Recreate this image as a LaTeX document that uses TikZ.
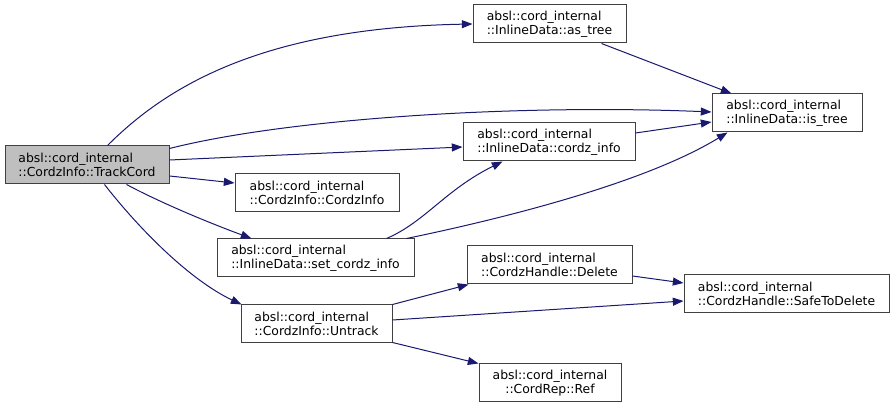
\documentclass[tikz,border=0pt]{standalone}
\usepackage{fontspec}
\setmainfont{DejaVu Sans}
\usetikzlibrary{arrows.meta,calc}
\definecolor{edgec}{HTML}{191970}
\definecolor{boxc}{HTML}{404040}
\definecolor{fillc}{HTML}{BFBFBF}
\begin{document}
\begin{tikzpicture}[x=0.75pt,y=-0.75pt,
  fn/.style={draw=boxc, line width=0.75pt, fill=white, inner xsep=2pt, inner ysep=0pt,
    minimum height=28.5pt, align=left, font=\fontsize{9.3}{10.7}\selectfont},
  ed/.style={draw=edgec, line width=0.75pt, -{Triangle[length=8pt,width=6pt]}}]
\useasboundingbox (0,0) rectangle (896,409);
\node[fn, fill=fillc, minimum width=123pt] (tc) at (87,165) {absl::cord\_internal\\::CordzInfo::TrackCord};
\node[fn, minimum width=114.75pt] (at) at (549.5,24) {absl::cord\_internal\\::InlineData::as\_tree};
\node[fn, minimum width=112.5pt] (it) at (787,113) {absl::cord\_internal\\::InlineData::is\_tree};
\node[fn, minimum width=129pt] (cz) at (549,142) {absl::cord\_internal\\::InlineData::cordz\_info};
\node[fn, minimum width=123pt] (ci) at (317,193) {absl::cord\_internal\\::CordzInfo::CordzInfo};
\node[fn, minimum width=147.75pt] (sc) at (315.5,258) {absl::cord\_internal\\::InlineData::set\_cordz\_info};
\node[fn, minimum width=113.25pt] (un) at (316.5,324) {absl::cord\_internal\\::CordzInfo::Untrack};
\node[fn, minimum width=123.75pt] (dl) at (549.5,265) {absl::cord\_internal\\::CordzHandle::Delete};
\node[fn, minimum width=153.75pt] (sd) at (786.5,294) {absl::cord\_internal\\::CordzHandle::SafeToDelete};
\node[fn, align=center, minimum width=106.5pt] (rf) at (550,383) {absl::cord\_internal\\::CordRep::Ref};

\draw[ed] ($(tc.north west)+(103,0)$) .. controls (165,88) and (260,28) .. (at.west);
\draw[ed] ($(tc.north east)+(0,3)$) .. controls (290,118) and (520,104) .. ($(it.west)+(0,-1)$);
\draw[ed] ($(tc.east)+(0,-5)$) -- ($(cz.west)+(0,5)$);
\draw[ed] ($(tc.east)+(0,11)$) -- ($(ci.west)+(0,-10)$);
\draw[ed] ($(tc.south west)+(122,0)$) .. controls (165,205) and (215,225) .. ($(sc.north west)+(35,0)$);
\draw[ed] ($(tc.south west)+(100,0)$) .. controls (140,230) and (190,280) .. ($(un.north west)+(1,0)$);
\draw[ed] ($(at.south west)+(129,0)$) -- ($(it.north west)+(20,0)$);
\draw[ed] ($(cz.east)+(0,-9)$) -- ($(it.west)+(0,9)$);
\draw[ed] ($(sc.north west)+(170,0)$) .. controls (425,222) and (445,190) .. ($(cz.south west)+(40,0)$);
\draw[ed] ($(sc.north west)+(190,0)$) .. controls (520,215) and (650,180) .. ($(it.south west)+(16,0)$);
\draw[ed] (un.north east) -- ($(dl.south west)+(2,0)$);
\draw[ed] ($(un.east)+(0,-4)$) -- ($(sd.west)+(0,7)$);
\draw[ed] ($(un.south east)+(0,-1)$) -- (rf.north west);
\draw[ed] ($(dl.east)+(0,11)$) -- ($(sd.west)+(0,-11)$);
\end{tikzpicture}
\end{document}
